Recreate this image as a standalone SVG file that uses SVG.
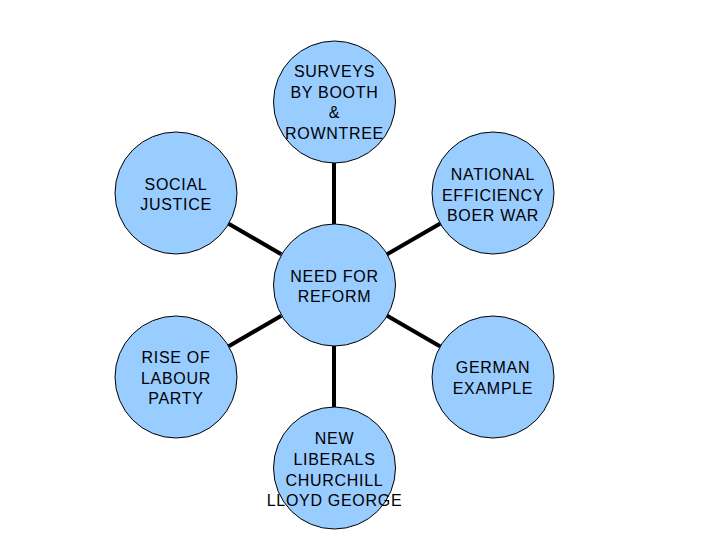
<svg xmlns="http://www.w3.org/2000/svg" width="720" height="540" viewBox="0 0 720 540">
<style>
.n circle{fill:#99CCFF;stroke:#000;stroke-width:1}
.n text{font-family:"Liberation Sans",Arial,sans-serif;font-size:16px;fill:#000;text-anchor:middle;letter-spacing:0.7px}
.c line{stroke:#000;stroke-width:4}
</style>
<rect width="720" height="540" fill="#fff"/>
<g id="connectors" class="c">
<line x1="334" y1="163" x2="334" y2="224"/>
<line x1="334" y1="346" x2="334" y2="407"/>
<line x1="228.7" y1="223.7" x2="281.3" y2="254.3"/>
<line x1="440.3" y1="223.5" x2="386.7" y2="254.5"/>
<line x1="228.7" y1="346.3" x2="281.3" y2="315.7"/>
<line x1="440.3" y1="346.5" x2="386.7" y2="315.5"/>
</g>
<g id="node-center" class="n">
<circle cx="334.5" cy="285" r="61"/>
<text x="334.5" y="281.5">NEED FOR</text>
<text x="334.5" y="302">REFORM</text>
</g>
<g id="node-surveys" class="n">
<circle cx="334.5" cy="102" r="61"/>
<text x="334.5" y="77">SURVEYS</text>
<text x="334.5" y="97.5">BY BOOTH</text>
<text x="334.5" y="118">&amp;</text>
<text x="334.5" y="138.5">ROWNTREE</text>
</g>
<g id="node-social" class="n">
<circle cx="176" cy="193" r="61"/>
<text x="176" y="190">SOCIAL</text>
<text x="176" y="210">JUSTICE</text>
</g>
<g id="node-national" class="n">
<circle cx="493" cy="193" r="61"/>
<text x="493" y="180">NATIONAL</text>
<text x="493" y="200.5">EFFICIENCY</text>
<text x="493" y="220.5">BOER WAR</text>
</g>
<g id="node-labour" class="n">
<circle cx="176" cy="377" r="61"/>
<text x="176" y="363">RISE OF</text>
<text x="176" y="383.5">LABOUR</text>
<text x="176" y="403.5">PARTY</text>
</g>
<g id="node-german" class="n">
<circle cx="493" cy="377" r="61"/>
<text x="493" y="373">GERMAN</text>
<text x="493" y="393.5">EXAMPLE</text>
</g>
<g id="node-liberals" class="n">
<circle cx="334.5" cy="468" r="61"/>
<text x="334.5" y="444">NEW</text>
<text x="334.5" y="465">LIBERALS</text>
<text x="334.5" y="485.5">CHURCHILL</text>
<text x="334.5" y="506">LLOYD GEORGE</text>
</g>
</svg>
